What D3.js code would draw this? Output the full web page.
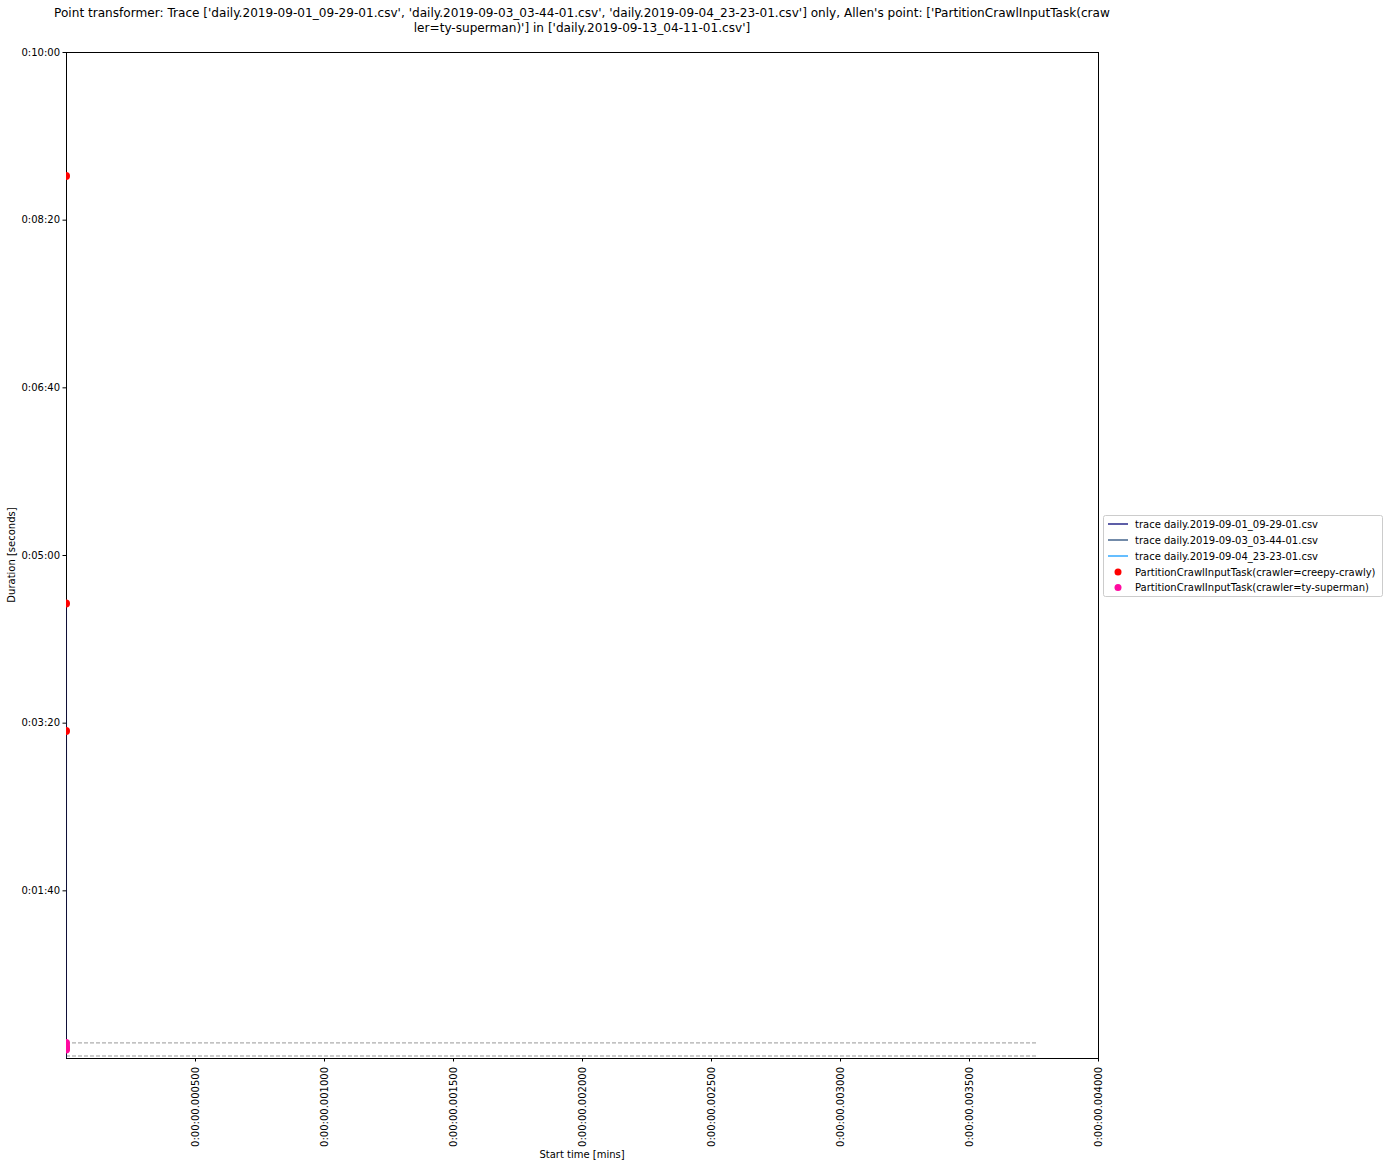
<!DOCTYPE html>
<html><head><meta charset="utf-8">
<script src="https://cdn.jsdelivr.net/npm/d3@7"></script>
<style>body{margin:0;background:#fff}text{font-family:"DejaVu Sans",sans-serif}</style>
</head><body>
<svg id="c" width="1389" height="1165"></svg>
<script>
const titleLines = ["Point transformer: Trace ['daily.2019-09-01_09-29-01.csv', 'daily.2019-09-03_03-44-01.csv', 'daily.2019-09-04_23-23-01.csv'] only, Allen's point: ['PartitionCrawlInputTask(craw",
  "ler=ty-superman)'] in ['daily.2019-09-13_04-11-01.csv']"];
const xTicks = [0.0005, 0.001, 0.0015, 0.002, 0.0025, 0.003, 0.0035, 0.004];
const yTicks = [100, 200, 300, 400, 500, 600];
const traceNames = ["trace daily.2019-09-01_09-29-01.csv", "trace daily.2019-09-03_03-44-01.csv", "trace daily.2019-09-04_23-23-01.csv"];
const trace1 = [[0, 0], [0.0000001, 270]];
const trace2 = [[0, 0], [0.0000001, 200]];
const trace3 = [[0, 0], [0.0000001, 8]];
const creepyX = [0, 0, 0, 0];
const creepyY = [526, 271, 195, 6];
const supermanX = [0, 0, 0];
const supermanY = [5, 7, 9];
const hLineY = [9, 1.2];
const hLineXEnd = 0.003767;
const pointNames = ["PartitionCrawlInputTask(crawler=creepy-crawly)", "PartitionCrawlInputTask(crawler=ty-superman)"];

const svg = d3.select("#c");
const L = 66, R = 1098, T = 52, B = 1058;
const x = d3.scaleLinear().domain([0, 0.004]).range([L, R]);
const y = d3.scaleLinear().domain([0, 600]).range([B, T]);
const fmtT = s => { s = Math.round(s); const m = Math.floor(s/60), ss = s%60; return "0:" + String(m).padStart(2,"0") + ":" + String(ss).padStart(2,"0"); };
const fmtX = v => "0:00:00." + String(Math.round(v*1e6)).padStart(6,"0");

svg.append("defs").append("clipPath").attr("id","clip").append("rect").attr("x",L-1).attr("y",T).attr("width",R-L+1).attr("height",B-T);
svg.append("rect").attr("x",L+0.5).attr("y",T+0.5).attr("width",R-L).attr("height",B-T).attr("fill","none").attr("stroke","#000").attr("stroke-width",1);
const g = svg.append("g").attr("clip-path","url(#clip)");

// dashed lines
hLineY.forEach(v => g.append("line").attr("x1",x(0)).attr("x2",x(hLineXEnd)).attr("y1",y(v)).attr("y2",y(v))
  .attr("stroke","#999").attr("stroke-width",1).attr("stroke-dasharray","4,2"));

const colors = ["#27288a", "#44648c", "#32a8ff"];
const line = d3.line().x(d => x(d[0])+0.5).y(d => y(d[1]));
[[trace3,2],[trace2,1],[trace1,0]].forEach(([t,i]) => g.append("path").attr("d", line(t)).attr("fill","none").attr("stroke",colors[i]).attr("stroke-width",1));
g.append("line").attr("x1",L+0.5).attr("x2",L+0.5).attr("y1",T).attr("y2",B).attr("stroke","#000").attr("stroke-opacity",0.6);

const gp = svg.append("g").attr("clip-path","url(#clip2)");
svg.select("defs").append("clipPath").attr("id","clip2").append("rect").attr("x",L).attr("y",T).attr("width",R-L).attr("height",B-T);
creepyX.forEach((v,i) => gp.append("circle").attr("cx",x(v)).attr("cy",y(creepyY[i])).attr("r",4).attr("fill","#ff0000"));
supermanX.forEach((v,i) => gp.append("circle").attr("cx",x(v)).attr("cy",y(supermanY[i])).attr("r",4).attr("fill","#ff0aa0"));

// axes
const xa = svg.append("g").attr("transform",`translate(0,${B})`).call(d3.axisBottom(x).tickValues(xTicks).tickFormat(fmtX).tickSize(3.5).tickSizeOuter(0));
xa.select(".domain").remove();
xa.selectAll("line").attr("stroke","#000");
xa.selectAll("text").attr("transform","rotate(-90)").attr("text-anchor","end").attr("x",-9).attr("y",0).attr("dy","0.32em")
  .attr("font-size",10).attr("font-family","DejaVu Sans").attr("fill","#000");
const ya = svg.append("g").attr("transform",`translate(${L},0)`).call(d3.axisLeft(y).tickValues(yTicks).tickFormat(fmtT).tickSize(3.5).tickSizeOuter(0));
ya.select(".domain").remove();
ya.selectAll("line").attr("stroke","#000");
ya.selectAll("text").attr("font-size",10).attr("font-family","DejaVu Sans").attr("fill","#000").attr("x",-6);

// title
titleLines.forEach((t,i) => svg.append("text").attr("x",(L+R)/2).attr("y",17+i*15).attr("text-anchor","middle").attr("font-size",12.1).text(t));
svg.append("text").attr("x",(L+R)/2).attr("y",1158).attr("text-anchor","middle").attr("font-size",10).text("Start time [mins]");
svg.append("text").attr("transform",`translate(15,${(T+B)/2}) rotate(-90)`).attr("text-anchor","middle").attr("font-size",10).text("Duration [seconds]");

// legend
const lg = svg.append("g");
lg.append("rect").attr("x",1103.5).attr("y",515.5).attr("width",279).attr("height",81).attr("rx",2).attr("fill","#fff").attr("stroke","#ccc");
traceNames.forEach((n,i) => {
  const yy = 524 + i*16;
  lg.append("line").attr("x1",1108).attr("x2",1128).attr("y1",yy).attr("y2",yy).attr("stroke",colors[i]).attr("stroke-width",1.5);
  lg.append("text").attr("x",1135).attr("y",yy+3.5).attr("font-size",10).text(n);
});
pointNames.forEach((n,i) => {
  const yy = 572 + i*15.5;
  lg.append("circle").attr("cx",1118).attr("cy",yy).attr("r",3.5).attr("fill",i==0?"#ff0000":"#ff0aa0");
  lg.append("text").attr("x",1135).attr("y",yy+3.5).attr("font-size",10).text(n);
});
</script>
</body></html>
